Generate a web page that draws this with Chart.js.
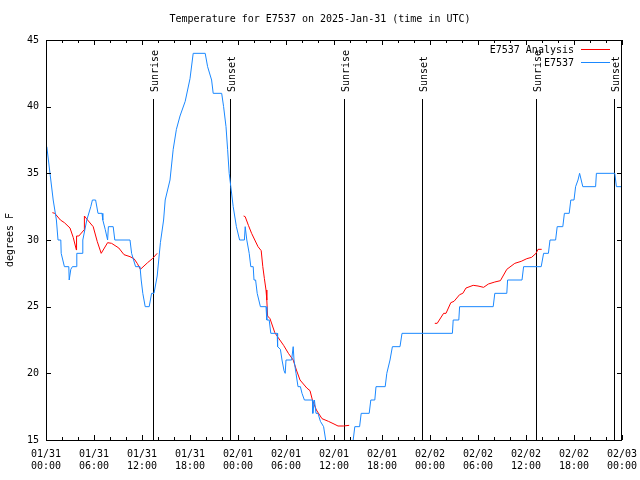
<!DOCTYPE html>
<html>
<head>
<meta charset="utf-8">
<title>Temperature for E7537</title>
<script src="https://cdn.jsdelivr.net/npm/chart.js@4.4.1/dist/chart.umd.min.js"></script>
<style>
  body { margin: 0; background: #fff; }
  canvas { display: block; }
</style>
</head>
<body>
<canvas id="tempChart" width="640" height="480"></canvas>
<script>
// x values are hours since 01/31 00:00 UTC

// E7537 observations
const obsHours = [0.1, 0.9, 1.3, 1.5, 1.85, 1.9, 2.3, 2.85, 2.9, 3.1, 3.3, 3.8, 3.85, 4.5, 4.6, 5.1, 5.6, 5.8, 6.2, 6.5,
  7.0, 7.1, 7.4, 7.7, 7.8, 8.4, 8.6, 10.5, 10.7, 11.2, 11.75, 11.9, 12.1, 12.4, 12.9, 13.2, 13.5, 13.9, 14.3, 14.7,
  14.9, 15.5, 15.9, 16.3, 16.75, 17.4, 18.0, 18.4, 19.9, 20.2, 20.7, 20.9, 21.96, 22.2, 22.5, 22.7, 22.9, 23.1, 23.4, 23.8,
  24.2, 24.8, 24.9, 25.1, 25.4, 25.6, 25.9, 26.0, 26.2, 26.4, 26.6, 26.8, 27.5, 27.6, 27.9, 28.1, 28.9, 28.95, 29.3, 29.5,
  29.75, 29.9, 30.0, 30.7, 30.9, 31.0, 31.25, 31.5, 31.8, 32.0, 32.3, 33.3, 33.35, 33.55, 33.75, 34.0, 34.3, 34.7, 34.96, 35.3,
  38.1, 38.4, 38.6, 39.2, 39.4, 40.4, 40.6, 41.1, 41.25, 42.4, 42.6, 43.0, 43.3, 44.25, 44.5, 50.8, 50.9, 51.6, 51.7, 55.9,
  56.1, 57.6, 57.7, 59.5, 59.7, 61.9, 62.2, 62.8, 63.0, 63.7, 63.9, 64.6, 64.8, 65.4, 65.6, 66.0, 66.2, 66.5, 66.7, 67.1,
  68.7, 68.8, 71.1, 71.3, 72.0];
const obsTemps = [37, 33, 31.5, 30, 30, 29, 28, 28, 27, 27.8, 28, 28, 29, 29, 30, 31.5, 32.5, 33, 33, 32,
  32, 31.5, 30.8, 30, 31, 31, 30, 30, 29, 28, 28, 27, 26, 25, 25, 26, 26, 27.3, 29.8, 31.5,
  33, 34.5, 36.8, 38.3, 39.3, 40.4, 42.1, 44, 44, 43, 42, 41, 41, 40, 38.5, 36.8, 35, 34, 32.5, 31,
  30, 30, 31, 30, 29, 28, 28, 27, 27, 26, 25.5, 25, 25, 24, 24, 23, 23, 22, 21.8, 21,
  20.2, 20, 21, 21, 22, 21, 20, 19, 19, 18.5, 18, 18, 17, 18, 17, 17, 16.4, 16, 15, 14,
  14, 15, 16, 16, 17, 17, 18, 18, 19, 19, 20, 21, 22, 22, 23, 23, 24, 24, 25, 25,
  26, 26, 27, 27, 28, 28, 29, 29, 30, 30, 31, 31, 32, 32, 33, 33, 34, 34.5, 35, 34,
  34, 35, 35, 34, 34];

// E7537 Analysis (null = gap between runs)
const anaHours = [0.8, 1.1, 1.8, 2.3, 3.0, 3.4, 3.8, 3.82, 4.1, 4.75, 4.8, 5.2, 5.9, 6.4, 6.9, 7.7, 8.2, 9.1, 9.75, 10.5,
  11.0, 11.4, 11.8, 12.7, 13.3, 13.9, null,
  24.7, 24.9, 25.3, 25.7, 26.1, 26.5, 26.9, 27.1, 27.3, 27.5, 27.6, 27.7, 28.0, 28.6, 29.0, 29.7, 30.3, 30.9, 31.3, 31.75,
  32.6, 33.0, 33.3, 33.8, 34.5, 35.3, 36.0, 36.5, 37.2, 37.9, null,
  48.6, 48.9, 49.7, 50.0, 50.6, 51.0, 51.7, 52.1, 52.5, 53.4, 54.0, 54.7, 55.3, 56.1, 56.8, 57.6, 58.6, 59.4, 60.1, 60.7,
  61.25, 61.5, 61.96];
const anaTemps = [32.05, 32, 31.5, 31.3, 30.9, 30.2, 29.25, 30.3, 30.3, 30.75, 31.8, 31.5, 31, 29.9, 29, 29.8, 29.75, 29.4, 28.9, 28.75,
  28.6, 28.25, 27.8, 28.3, 28.6, 29, null,
  31.8, 31.75, 31.1, 30.5, 30, 29.5, 29.2, 28, 27.1, 26.25, 25.5, 24.3, 24.1, 23.05, 22.7, 22.1, 21.5, 21, 20.25, 19.5,
  18.9, 18.7, 18, 17.25, 16.6, 16.4, 16.2, 16.05, 16.05, 16.1, null,
  23.75, 23.75, 24.5, 24.5, 25.3, 25.4, 25.9, 26, 26.4, 26.6, 26.55, 26.45, 26.7, 26.85, 26.95, 27.8, 28.25, 28.4, 28.6, 28.7,
  29, 29.3, 29.3];

// sunrise / sunset markers
const sunHours = [13.42, 23.04, 37.29, 47.04, 61.29, 71.04];
const sunLabels = ['Sunrise', 'Sunset', 'Sunrise', 'Sunset', 'Sunrise', 'Sunset'];

// x tick labels, every 6 hours
const tickDates = ['01/31', '01/31', '01/31', '01/31', '02/01', '02/01', '02/01', '02/01', '02/02', '02/02', '02/02', '02/02', '02/03'];
const tickTimes = ['00:00', '06:00', '12:00', '18:00', '00:00', '06:00', '12:00', '18:00', '00:00', '06:00', '12:00', '18:00', '00:00'];

const yTicks = [15, 20, 25, 30, 35, 40, 45];

const obsColor = '#1a88ff';
const anaColor = '#ff0000';
const FONT = "'DejaVu Sans Mono', monospace";

function toPoints(hours, temps) {
    return hours.map((h, i) => ({ x: h === null ? hours[i - 1] : h, y: temps[i] }));
}

// gnuplot-like frame, inward ticks, title, legend and sun markers
const gnuplotDecor = {
    id: 'gnuplotDecor',
    beforeDatasetsDraw(chart) {
        const { ctx, chartArea: a, scales: { x } } = chart;
        ctx.save();
        ctx.strokeStyle = '#000';
        ctx.fillStyle = '#000';
        ctx.lineWidth = 1;
        ctx.font = '10px ' + FONT;
        sunHours.forEach((h, i) => {
            const px = Math.round(x.getPixelForValue(h)) + 0.5;
            ctx.beginPath();
            ctx.moveTo(px, a.top + 59);
            ctx.lineTo(px, a.bottom);
            ctx.stroke();
            ctx.save();
            ctx.translate(px + 4.5, a.top + 52);
            ctx.rotate(-Math.PI / 2);
            ctx.textAlign = 'left';
            ctx.textBaseline = 'alphabetic';
            ctx.fillText(sunLabels[i], 0, 0);
            ctx.restore();
        });
        ctx.restore();
    },
    afterDraw(chart) {
        const { ctx, chartArea: a, scales: { x, y } } = chart;
        ctx.save();
        ctx.strokeStyle = '#000';
        ctx.fillStyle = '#000';
        ctx.lineWidth = 1;

        // frame
        ctx.strokeRect(a.left + 0.5, a.top + 0.5, a.right - a.left - 1, a.bottom - a.top);

        // x ticks every 2 hours, longer every 6
        ctx.beginPath();
        for (let h = 0; h <= 72; h += 2) {
            const px = Math.round(x.getPixelForValue(h)) + 0.5;
            const len = h % 6 === 0 ? 5 : 3;
            ctx.moveTo(px, a.bottom); ctx.lineTo(px, a.bottom - len);
            ctx.moveTo(px, a.top); ctx.lineTo(px, a.top + len);
        }
        yTicks.forEach(v => {
            const py = Math.round(y.getPixelForValue(v)) + 0.5;
            ctx.moveTo(a.left, py); ctx.lineTo(a.left + 5, py);
            ctx.moveTo(a.right, py); ctx.lineTo(a.right - 5, py);
        });
        ctx.stroke();

        ctx.font = '10px ' + FONT;
        ctx.textBaseline = 'middle';

        // title
        ctx.textAlign = 'center';
        ctx.fillText('Temperature for E7537 on 2025-Jan-31 (time in UTC)', 320, 19);

        // y axis title
        ctx.save();
        ctx.translate(10, (a.top + a.bottom) / 2);
        ctx.rotate(-Math.PI / 2);
        ctx.fillText('degrees F', 0, 0);
        ctx.restore();

        // legend
        const entries = [['E7537 Analysis', anaColor, 50], ['E7537', obsColor, 63]];
        entries.forEach(([label, color, ly]) => {
            ctx.fillStyle = '#000';
            ctx.textAlign = 'right';
            ctx.fillText(label, 574, ly);
            ctx.strokeStyle = color;
            ctx.beginPath();
            ctx.moveTo(581, ly - 0.5);
            ctx.lineTo(610, ly - 0.5);
            ctx.stroke();
        });
        ctx.restore();
    }
};

Chart.defaults.font.family = FONT;
Chart.defaults.font.size = 10;
Chart.defaults.color = '#000';

new Chart(document.getElementById('tempChart').getContext('2d'), {
    type: 'line',
    data: {
        datasets: [
            {
                label: 'E7537',
                data: toPoints(obsHours, obsTemps),
                borderColor: obsColor,
                borderWidth: 1,
                pointRadius: 0,
                fill: false,
                tension: 0,
                clip: 0
            },
            {
                label: 'E7537 Analysis',
                data: toPoints(anaHours, anaTemps),
                borderColor: anaColor,
                borderWidth: 1,
                pointRadius: 0,
                fill: false,
                tension: 0,
                spanGaps: false,
                clip: 0
            }
        ]
    },
    options: {
        responsive: false,
        animation: false,
        devicePixelRatio: 1,
        layout: { padding: { top: 40, right: 18, left: 0, bottom: 0 } },
        plugins: {
            legend: { display: false },
            title: { display: false },
            tooltip: { enabled: false }
        },
        scales: {
            x: {
                type: 'linear',
                min: 0,
                max: 72,
                grid: { display: false, drawTicks: false },
                border: { display: false },
                afterFit: (scale) => {
                    scale.height = 40;
                    // keep the plot edge fixed; labels may overhang into the padding
                    scale.paddingLeft = 0;
                    scale.paddingRight = 0;
                },
                afterBuildTicks: (scale) => { scale.ticks = tickDates.map((d, i) => ({ value: i * 6 })); },
                ticks: {
                    autoSkip: false,
                    maxRotation: 0,
                    padding: 8,
                    callback: (value) => {
                        const i = Math.round(value / 6);
                        return [tickDates[i], tickTimes[i]];
                    }
                }
            },
            y: {
                min: 15,
                max: 45,
                grid: { display: false, drawTicks: false },
                border: { display: false },
                afterFit: (scale) => { scale.width = 46; },
                afterBuildTicks: (scale) => { scale.ticks = yTicks.map(v => ({ value: v })); },
                ticks: { padding: 7 }
            }
        }
    },
    plugins: [gnuplotDecor]
});
</script>
</body>
</html>
